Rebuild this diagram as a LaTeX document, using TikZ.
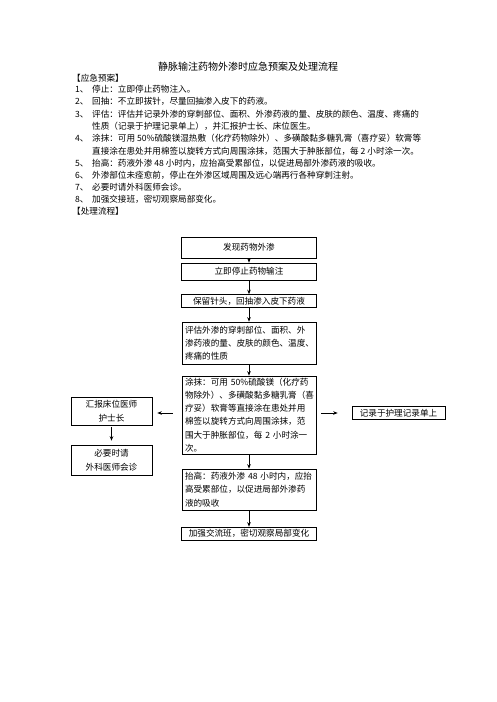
\documentclass[tikz,border=0pt]{standalone}
\usepackage{fontspec}
\setmainfont{Noto Sans CJK SC}
\usetikzlibrary{arrows.meta}
\tikzset{
  body/.style={anchor=base west, inner sep=0pt, font=\fontsize{8.6}{10}\selectfont},
  fbox/.style={draw, line width=0.6pt, inner xsep=3pt, inner ysep=1.5pt, align=left, text width=128pt,
    font=\fontsize{8.6}{13.3}\selectfont},
  sbox/.style={draw, line width=0.6pt, inner sep=1.5pt, align=center,
    font=\fontsize{8.6}{13.5}\selectfont},
  arr/.style={line width=0.8pt, -{Stealth[length=4.5pt,width=3.5pt]}}
}
\newcommand{\numlab}[1]{\makebox[17pt][l]{#1}}
\begin{document}
\begin{tikzpicture}[x=1pt,y=-1pt]
\useasboundingbox (0,0) rectangle (496,702);
% title and plan
\node[anchor=base, inner sep=0pt, font=\fontsize{10}{12}\selectfont] (title) at (248,70) {静脉输注药物外渗时应急预案及处理流程};
\node[body] (h1) at (72,81) {【应急预案】};
\node[body] (l1) at (75,92) {\numlab{1、}停止：立即停止药物注入。};
\node[body] (l2) at (75,104) {\numlab{2、}回抽：不立即拔针，尽量回抽渗入皮下的药液。};
\node[body] (l3) at (75,117) {\numlab{3、}评估：评估并记录外渗的穿刺部位、面积、外渗药液的量、皮肤的颜色、温度、疼痛的};
\node[body] (l3b) at (92,129) {性质（记录于护理记录单上），并汇报护士长、床位医生。};
\node[body] (l4) at (75,141) {\numlab{4、}涂抹：可用 50\%硫酸镁湿热敷（化疗药物除外）、多磺酸黏多糖乳膏（喜疗妥）软膏等};
\node[body] (l4b) at (92,154) {直接涂在患处并用棉签以旋转方式向周围涂抹，范围大于肿胀部位，每 2 小时涂一次。};
\node[body] (l5) at (75,166) {\numlab{5、}抬高：药液外渗 48 小时内，应抬高受累部位，以促进局部外渗药液的吸收。};
\node[body] (l6) at (75,178) {\numlab{6、}外渗部位未痊愈前，停止在外渗区域周围及远心端再行各种穿刺注射。};
\node[body] (l7) at (75,190) {\numlab{7、}必要时请外科医师会诊。};
\node[body] (l8) at (75,202) {\numlab{8、}加强交接班，密切观察局部变化。};
\node[body] (h2) at (72,214) {【处理流程】};
% flow boxes
\node[sbox, minimum width=135pt, minimum height=21pt] (b1) at (249,247.5) {发现药物外渗};
\node[sbox, minimum width=135pt, minimum height=17pt] (b2) at (249,271.5) {立即停止药物输注};
\node[sbox, minimum width=135pt, minimum height=13pt] (b3) at (249,301) {保留针头，回抽渗入皮下药液};
\node[fbox, minimum height=42pt] (b4) at (249,343) {评估外渗的穿刺部位、面积、外\\渗药液的量、皮肤的颜色、温度、\\疼痛的性质};
\node[fbox, minimum height=78pt] (b5) at (249,415) {涂抹：可用 50\%硫酸镁（化疗药\\物除外）、多磺酸黏多糖乳膏（喜\\疗妥）软膏等直接涂在患处并用\\棉签以旋转方式向周围涂抹，范\\围大于肿胀部位，每 2 小时涂一\\次。};
\node[fbox, minimum height=41pt] (b6) at (249,489.5) {抬高：药液外渗 48 小时内，应抬\\高受累部位，以促进局部外渗药\\液的吸收};
\node[sbox, minimum width=135pt, minimum height=13pt] (b7) at (249,533.5) {加强交流班，密切观察局部变化};
\node[sbox, minimum width=81pt, minimum height=28pt] (s1) at (111.5,411) {汇报床位医师\\护士长};
\node[sbox, minimum width=81pt, minimum height=30pt] (s2) at (111.5,460) {必要时请\\外科医师会诊};
\node[sbox, minimum width=93pt, minimum height=13pt] (r1) at (398.5,413) {记录于护理记录单上};
% connectors
\draw[arr] (b1) -- (b2);
\draw[arr] (b2) -- (b3);
\draw[arr] (b3) -- (b4);
\draw[arr] (b4) -- (b5);
\draw[arr] (b5) -- (b6);
\draw[arr] (b6) -- (b7);
\draw[arr, shorten <=9pt, shorten >=5pt] ([yshift=-2pt]s1.east -| b5.west) -- ([yshift=-2pt]s1.east);
\draw[arr, shorten <=5pt, shorten >=14pt] (r1.west -| b5.east) -- (r1.west);
\draw[arr, shorten <=2pt, shorten >=4pt] (s1) -- (s2);
\end{tikzpicture}
\end{document}
